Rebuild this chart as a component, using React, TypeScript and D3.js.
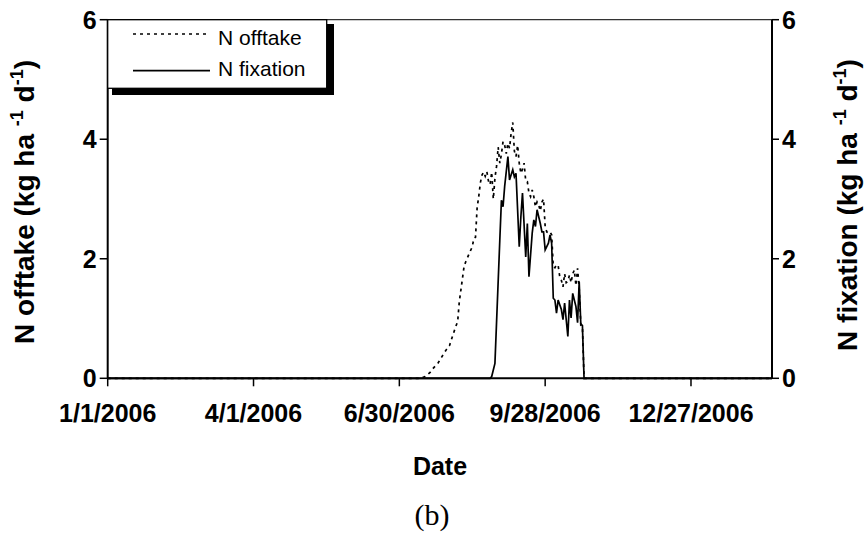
import React from "react";
import * as d3 from "d3";

// Day offsets from 1/1/2006 and daily values (kg ha-1 d-1)
const offtakeDays = [0, 193, 196, 199, 201, 204, 206, 209, 211, 213, 215, 216, 217, 218, 220, 221, 223, 225, 226, 227, 228, 229, 230, 231, 232, 233, 234, 235, 236, 237, 238, 239, 240, 241, 242, 243, 244, 245, 246, 247, 248, 249, 250, 251, 252, 253, 254, 255, 256, 257, 258, 259, 260, 261, 262, 263, 264, 265, 266, 267, 268, 269, 270, 271, 272, 273, 274, 275, 276, 277, 278, 279, 280, 281, 282, 283, 284, 285, 286, 287, 288, 289, 290, 291, 292, 293, 294, 410];
const offtakeValues = [0, 0, 0.03, 0.1, 0.17, 0.26, 0.35, 0.48, 0.55, 0.72, 0.88, 0.95, 1.28, 1.48, 1.88, 1.95, 2.08, 2.2, 2.34, 2.36, 2.85, 3.04, 3.27, 3.4, 3.45, 3.38, 3.46, 3.3, 3.24, 3.45, 3.0, 3.35, 3.55, 3.87, 3.6, 3.75, 3.96, 3.9, 3.76, 3.93, 3.85, 4.1, 4.28, 3.8, 3.71, 3.9, 3.6, 3.43, 3.5, 3.6, 3.3, 3.29, 3.1, 3.04, 3.15, 3.04, 2.87, 2.95, 2.9, 2.8, 2.95, 3.0, 2.54, 2.45, 2.43, 2.45, 2.4, 1.87, 1.85, 1.9, 1.89, 1.7, 1.64, 1.53, 1.75, 1.6, 1.62, 1.73, 1.6, 1.75, 1.81, 1.55, 1.84, 1.5, 0.88, 0.85, 0, 0];

const fixationDays = [0, 236, 237, 239, 242, 243, 244, 245, 247, 248, 250, 251, 252, 254, 255, 256, 258, 259, 260, 262, 263, 264, 265, 267, 268, 269, 270, 272, 273, 274, 275, 276, 277, 278, 280, 281, 282, 284, 285, 286, 287, 289, 290, 291, 292, 293, 294, 410];
const fixationValues = [0, 0, 0.03, 0.25, 2.31, 2.98, 2.87, 3.21, 3.71, 3.32, 3.49, 3.37, 3.43, 2.2, 2.7, 3.1, 2.03, 2.59, 1.7, 2.43, 2.65, 2.54, 2.82, 2.59, 2.45, 2.45, 2.15, 2.26, 2.4, 2.26, 1.34, 1.31, 1.09, 1.31, 1.15, 0.98, 1.26, 0.7, 1.31, 1.01, 1.42, 1.2, 0.93, 1.62, 0.91, 0.88, 0, 0];

const yTicks = [0, 2, 4, 6];
const xTickDays = [0, 90, 180, 270, 360];
const xTickLabels = ["1/1/2006", "4/1/2006", "6/30/2006", "9/28/2006", "12/27/2006"];
const seriesNames = ["N offtake", "N fixation"];

const start = new Date(Date.UTC(2006, 0, 1));
const dayToDate = (d: number) => d3.utcDay.offset(start, d);

export default function App() {
  const left = 107.7, right = 772, top = 19.7, bottom = 378.3;
  const x = d3.scaleUtc().domain([start, dayToDate(410)]).range([left, right]);
  const y = d3.scaleLinear().domain([0, 6]).range([bottom, top]);

  const line = d3
    .line<[number, number]>()
    .x((d) => x(dayToDate(d[0])))
    .y((d) => y(d[1]));

  const offtake = offtakeDays.map((d, i) => [d, offtakeValues[i]] as [number, number]);
  const fixation = fixationDays.map((d, i) => [d, fixationValues[i]] as [number, number]);

  const font = "'Liberation Sans', Arial, sans-serif";

  const title = (name: string) => (
    <>
      {name + " (kg ha "}
      <tspan dy={-11} fontSize={18}>-1</tspan>
      <tspan dy={11}>{"  d"}</tspan>
      <tspan dy={-11} fontSize={18}>-1</tspan>
      <tspan dy={11}>)</tspan>
    </>
  );

  return (
    <div style={{ position: "absolute", left: 0, top: 0 }}>
      <svg width={864} height={544} style={{ display: "block", background: "#fff" }}>
        {/* top frame */}
        <line x1={left} x2={right} y1={top} y2={top} stroke="#333" strokeWidth={1.3} />
        {/* data */}
        <path d={line(offtake) || ""} fill="none" stroke="#000" strokeWidth={1.7} strokeDasharray="3,4" />
        <path d={line(fixation) || ""} fill="none" stroke="#000" strokeWidth={1.7} />
        {/* left axis */}
        <line x1={left} x2={left} y1={top} y2={bottom} stroke="#000" strokeWidth={2} />
        {yTicks.map((t) => (
          <g key={"l" + t}>
            <line x1={left - 8} x2={left} y1={y(t)} y2={y(t)} stroke="#000" strokeWidth={1.5} />
            <text x={left - 11} y={y(t)} textAnchor="end" dominantBaseline="central" fontFamily={font} fontWeight="bold" fontSize={25}>
              {t}
            </text>
          </g>
        ))}
        {/* right axis */}
        <line x1={right} x2={right} y1={top} y2={bottom} stroke="#000" strokeWidth={2} />
        {yTicks.map((t) => (
          <g key={"r" + t}>
            <line x1={right} x2={right + 7} y1={y(t)} y2={y(t)} stroke="#000" strokeWidth={1.5} />
            <text x={right + 10} y={y(t)} textAnchor="start" dominantBaseline="central" fontFamily={font} fontWeight="bold" fontSize={25}>
              {t}
            </text>
          </g>
        ))}
        {/* bottom axis */}
        <line x1={left} x2={right} y1={bottom} y2={bottom} stroke="#000" strokeWidth={2} />
        {xTickDays.map((d, i) => (
          <g key={"x" + d}>
            <line x1={x(dayToDate(d))} x2={x(dayToDate(d))} y1={bottom} y2={bottom + 8} stroke="#000" strokeWidth={1.5} />
            <text x={x(dayToDate(d))} y={413} textAnchor="middle" dominantBaseline="central" fontFamily={font} fontWeight="bold" fontSize={25}>
              {xTickLabels[i]}
            </text>
          </g>
        ))}
        {/* legend */}
        <rect x={112} y={24} width={222} height={71} fill="#000" />
        <rect x={left} y={top} width={326.7 - left} height={88.3 - top} fill="#fff" stroke="#000" strokeWidth={1.3} />
        <line x1={133} x2={208} y1={34} y2={34} stroke="#000" strokeWidth={1.7} strokeDasharray="3,4" />
        <text x={218} y={45} fontFamily={font} fontSize={21}>{seriesNames[0]}</text>
        <line x1={133} x2={210} y1={70.7} y2={70.7} stroke="#000" strokeWidth={1.7} />
        <text x={218} y={75.5} fontFamily={font} fontSize={21}>{seriesNames[1]}</text>
        {/* axis titles */}
        <text transform="translate(34,202) rotate(-90)" textAnchor="middle" fontFamily={font} fontWeight="bold" fontSize={28}>
          {title("N offtake")}
        </text>
        <text transform="translate(857,205) rotate(-90)" textAnchor="middle" fontFamily={font} fontWeight="bold" fontSize={28}>
          {title("N fixation")}
        </text>
        <text x={440} y={466} textAnchor="middle" dominantBaseline="central" fontFamily={font} fontWeight="bold" fontSize={25}>
          Date
        </text>
        <text x={432} y={514} textAnchor="middle" dominantBaseline="central" fontFamily="'Liberation Serif', 'Times New Roman', serif" fontSize={30}>
          (b)
        </text>
      </svg>
    </div>
  );
}
